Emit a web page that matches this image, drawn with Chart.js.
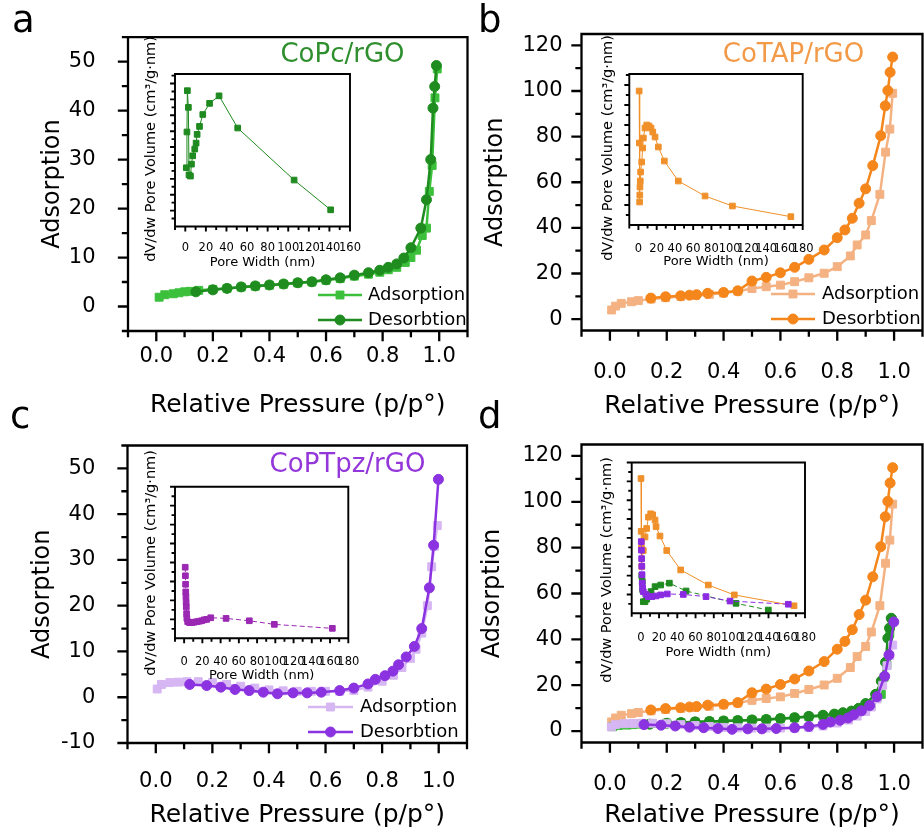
<!DOCTYPE html>
<html>
<head>
<meta charset="utf-8">
<script src="https://cdn.jsdelivr.net/npm/chart.js@4.4.1/dist/chart.umd.min.js"></script>
<style>
  body { margin: 0; background: #fff; }
  #fig { position: relative; width: 924px; height: 838px; overflow: hidden; background: #fff; }
  #fig canvas { position: absolute; }
</style>
</head>
<body>
<div id="fig"></div>
<script>
const FONT = "'DejaVu Sans', 'Liberation Sans', sans-serif";

// ---- isotherms: relative pressure (p/p°) vs adsorbed amount
// CoPc/rGO
const pressA_ads = [0.01,0.03,0.06,0.08,0.10,0.12,0.15,0.20,0.25,0.30,0.35,0.40,0.45,0.50,0.55,0.60,0.65,0.70,0.75,0.79,0.82,0.85,0.88,0.90,0.92,0.94,0.955,0.965,0.975,0.985,0.993];
const volA_ads   = [1.9,2.4,2.6,2.8,3.0,3.1,3.3,3.5,3.7,3.95,4.15,4.35,4.55,4.8,5.0,5.35,5.7,6.2,6.6,7.0,7.5,8.0,9.0,10.0,11.5,14.5,16.0,23.5,28.8,42.6,48.5];
const pressA_des = [0.14,0.20,0.25,0.30,0.35,0.40,0.45,0.50,0.55,0.60,0.65,0.70,0.75,0.79,0.82,0.85,0.875,0.90,0.935,0.955,0.97,0.978,0.984,0.99];
const volA_des   = [3.0,3.4,3.7,4.0,4.2,4.4,4.6,4.85,5.05,5.45,5.85,6.4,6.9,7.4,8.0,8.7,9.9,12.0,16.0,21.8,30.0,40.5,44.9,49.2];

// CoTAP/rGO
const pressB_ads = [0.006,0.02,0.04,0.076,0.10,0.145,0.196,0.25,0.30,0.35,0.40,0.45,0.50,0.55,0.60,0.65,0.70,0.754,0.80,0.846,0.87,0.90,0.92,0.95,0.97,0.985,0.995];
const volB_ads   = [4.0,5.7,6.9,7.6,8.1,8.8,9.4,9.9,10.3,10.8,11.4,12.2,13.4,14.2,14.9,16.4,18.1,20.1,23.0,27.7,32.5,36.9,43.2,54.7,73.2,83.3,99.0];
const pressB_des = [0.144,0.196,0.249,0.28,0.305,0.344,0.40,0.45,0.50,0.55,0.60,0.65,0.70,0.754,0.80,0.827,0.853,0.877,0.90,0.925,0.953,0.969,0.978,0.986,0.995];
const volB_des   = [9.2,9.8,10.2,10.5,10.7,11.3,11.7,12.4,16.7,18.3,20.3,22.7,26.2,30.3,35.7,39.1,44.2,50.8,57.1,67.3,80.4,93.5,100.2,108.2,114.9];

// CoPTpz/rGO
const pressC_ads = [0.005,0.02,0.05,0.08,0.11,0.15,0.20,0.25,0.30,0.35,0.40,0.45,0.50,0.55,0.60,0.65,0.70,0.75,0.80,0.84,0.87,0.90,0.92,0.94,0.96,0.975,0.985,0.995];
const volC_ads   = [1.8,2.8,3.2,3.3,3.4,3.4,3.2,2.8,2.4,2.0,1.6,1.4,1.3,1.3,1.3,1.3,1.5,2.2,3.5,4.8,6.5,8.5,10.5,14.0,20.0,28.5,33.0,37.5];
const pressC_des = [0.12,0.18,0.23,0.28,0.33,0.38,0.43,0.485,0.535,0.585,0.65,0.70,0.75,0.776,0.81,0.838,0.858,0.885,0.914,0.94,0.967,0.982,0.999];
const volC_des   = [2.8,2.55,2.2,1.7,1.45,1.1,0.75,0.95,0.95,1.1,1.45,2.0,2.9,3.9,4.7,5.7,7.1,8.8,11.1,15.0,23.9,33.2,47.6];

// ---- pore size distributions (pore width nm vs dV/dw, arbitrary units)
const widthA = [1.0,1.6,2.0,3.0,3.6,5.0,6.0,7.2,9.2,10.5,11.5,13.8,17,23.6,32.8,50.9,105.7,141.2];
const psdA   = [7.4,11.9,17.1,15.0,6.5,6.35,7.85,8.9,9.75,10.5,11.6,12.6,14.1,15.5,16.45,12.4,5.85,2.1];
const widthB = [0.8,1.0,1.3,1.5,1.7,2.0,2.4,3.6,4.7,5.4,7.2,9.1,11.6,13.8,15.7,18.2,21.8,28.4,43.7,73,103,167];
const psdB   = [13.4,8.2,2.3,3.0,3.8,4.4,5.3,6.3,7.7,8.7,9.7,10.0,9.9,9.7,9.3,8.8,7.8,6.4,4.4,2.9,1.9,0.83];
const widthC = [1.2,1.4,1.6,1.8,2.0,2.2,2.4,2.7,3.0,3.9,6,8.3,11,13.8,16.5,19.3,22,24.8,29.2,46,71.5,98.9,162.5];
const psdC   = [7.5,6.6,5.7,4.9,4.4,3.8,3.3,2.6,2.1,1.75,1.65,1.65,1.7,1.75,1.8,1.85,1.95,2.0,2.17,2.1,1.85,1.47,1.05];
const widthD_tap = [0.2,0.4,0.6,1.0,2.7,4.6,6.4,8.3,10.8,13,15.6,16.7,21,28.4,43.7,74,102.5,168];
const psdD_tap   = [14.3,8.7,6.9,4.96,6.66,8.1,9.0,10.2,10.56,10.45,9.9,9.2,8.2,6.66,4.6,3.0,1.95,0.8];
const widthD_pc  = [1.0,1.6,2.0,2.7,4.6,6.5,8.3,11.2,15.6,21.8,31.3,49.6,104.4,139.8];
const psdD_pc    = [4.0,3.4,2.5,1.23,1.23,1.5,1.77,2.3,2.83,3.0,3.2,2.37,1.06,0.35];
const widthD_ptz = [0.5,0.7,0.9,1.1,1.3,1.6,2.0,2.7,5.7,8.3,12,16.7,21.8,29,46.6,71.5,97.8,161.7];
const psdD_ptz   = [7.6,6.7,5.8,5.0,4.1,3.2,2.66,2.3,2.0,1.77,1.77,1.84,1.95,2.05,2.0,1.77,1.3,0.96];

// ---- axis ticks
const xMajorMain = [0, 0.2, 0.4, 0.6, 0.8, 1.0];
const xMinorMain = [-0.1, 0.1, 0.3, 0.5, 0.7, 0.9, 1.1];
const yMajor50 = [0, 10, 20, 30, 40, 50];
const yMinor50 = [-5, 5, 15, 25, 35, 45, 55];
const yMajorC = [-10, 0, 10, 20, 30, 40, 50];
const yMajor120 = [0, 20, 40, 60, 80, 100, 120];
const yMinor120 = [10, 30, 50, 70, 90, 110];
const wMajor160 = [0, 20, 40, 60, 80, 100, 120, 140, 160];
const wMinor160 = [-10, 10, 30, 50, 70, 90, 110, 130, 150];
const wMajor180 = [0, 20, 40, 60, 80, 100, 120, 140, 160, 180];
const wMinor180 = [-10, 10, 30, 50, 70, 90, 110, 130, 150, 170];

const GREEN = '#1f8c1f', GREEN_L = '#3cc03c';
const ORANGE = '#f4861c', ORANGE_L = '#f4b283';
const PURPLE = '#8b33e0', PURPLE_L = '#d6b6f3';

function range(a, b) { const r = []; for (let i = a; i <= b; i++) r.push(i); return r; }

function addCanvas(r) {
  const cv = document.createElement('canvas');
  cv.width = r.w; cv.height = r.h;
  cv.style.left = r.x + 'px'; cv.style.top = r.y + 'px';
  cv.style.width = r.w + 'px'; cv.style.height = r.h + 'px';
  document.getElementById('fig').appendChild(cv);
  return cv;
}

function series(label, xs, ys, color, style, size, extra) {
  return Object.assign({
    label: label,
    data: xs.map((x, i) => ({ x: x, y: ys[i] })),
    showLine: true,
    borderColor: color, backgroundColor: color,
    pointBackgroundColor: color, pointBorderColor: color,
    pointStyle: style, pointRadius: size, pointBorderWidth: 1, pointHoverRadius: size,
    borderWidth: 2.5
  }, extra || {});
}

function marker(ctx, style, r, x, y) {
  ctx.beginPath();
  if (style === 'rect') { const s = r * Math.SQRT1_2; ctx.rect(x - s, y - s, 2 * s, 2 * s); }
  else ctx.arc(x, y, r, 0, Math.PI * 2);
  ctx.fill(); ctx.stroke();
}

// box around the plot + outward major/minor tick marks, one path
function frameTicks(cfg) {
  return {
    id: 'frameTicks',
    afterDraw(chart) {
      const ctx = chart.ctx, sx = chart.scales.x, sy = chart.scales.y;
      const L = sx.left, R = sx.right, T = sy.top, B = sy.bottom;
      ctx.save();
      ctx.strokeStyle = '#000';
      ctx.lineWidth = cfg.lineWidth;
      ctx.lineCap = 'square';
      ctx.beginPath();
      ctx.moveTo(L, T); ctx.lineTo(R, T);
      ctx.moveTo(R, T); ctx.lineTo(R, B);
      ctx.moveTo(L, B); ctx.lineTo(R, B);
      ctx.moveTo(L, T); ctx.lineTo(L, B);
      const xm = (vals, len) => vals.forEach(v => {
        const p = sx.getPixelForValue(v); ctx.moveTo(p, B); ctx.lineTo(p, B + len);
      });
      const ym = (vals, len) => vals.forEach(v => {
        const p = sy.getPixelForValue(v); ctx.moveTo(L, p); ctx.lineTo(L - len, p);
      });
      xm(cfg.xMajor, cfg.len[0]); xm(cfg.xMinor, cfg.len[1]);
      ym(cfg.yMajor, cfg.len[0]); ym(cfg.yMinor, cfg.len[1]);
      ctx.stroke();
      ctx.restore();
    }
  };
}

// free text (page coordinates) and the in-plot legend
function notes(r, cfg) {
  return {
    id: 'notes',
    afterDraw(chart) {
      const ctx = chart.ctx;
      ctx.save();
      ctx.translate(-r.x, -r.y);
      (cfg.texts || []).forEach(t => {
        ctx.save();
        ctx.font = t.font;
        ctx.fillStyle = t.color || '#000';
        ctx.textAlign = t.align || 'left';
        ctx.textBaseline = t.base || 'alphabetic';
        ctx.translate(t.x, t.y);
        if (t.rot) ctx.rotate(-Math.PI / 2);
        ctx.fillText(t.text, 0, 0);
        ctx.restore();
      });
      (cfg.legend || []).forEach(l => {
        const ds = chart.data.datasets[l.ds];
        ctx.strokeStyle = ds.borderColor;
        ctx.lineWidth = ds.borderWidth;
        ctx.beginPath(); ctx.moveTo(l.x1, l.y); ctx.lineTo(l.x2, l.y); ctx.stroke();
        ctx.fillStyle = ds.pointBackgroundColor;
        ctx.strokeStyle = ds.pointBorderColor;
        ctx.lineWidth = 1;
        marker(ctx, ds.pointStyle, ds.pointRadius, (l.x1 + l.x2) / 2, l.y);
        ctx.fillStyle = '#000';
        ctx.font = '18px ' + FONT;
        ctx.textAlign = 'left';
        ctx.textBaseline = 'middle';
        ctx.fillText(ds.label, l.tx, l.y);
      });
      ctx.restore();
    }
  };
}

function mainPanel(r, area, o) {
  const cv = addCanvas(r);
  return new Chart(cv, {
    type: 'scatter',
    data: { datasets: o.datasets },
    plugins: [
      frameTicks({ xMajor: xMajorMain, xMinor: xMinorMain, yMajor: o.yMajor, yMinor: o.yMinor, len: [9, 5], lineWidth: 2.3 }),
      notes(r, { texts: o.texts, legend: o.legend })
    ],
    options: {
      responsive: false, animation: false, devicePixelRatio: 1,
      layout: { padding: { left: 0, top: area.t - r.y, right: r.x + r.w - area.r, bottom: 0 } },
      plugins: { legend: { display: false }, tooltip: { enabled: false } },
      scales: {
        x: {
          type: 'linear', min: -0.1, max: 1.1,
          afterBuildTicks: s => { s.ticks = xMajorMain.map(v => ({ value: v })); },
          afterFit: s => { s.height = r.y + r.h - area.b; },
          grid: { display: false }, border: { display: false },
          ticks: { autoSkip: false, maxRotation: 0, minRotation: 0, padding: o.xPad, color: '#000',
                   font: { family: FONT, size: 21 }, callback: v => Number(v).toFixed(1) },
          title: { display: true, text: 'Relative Pressure (p/p°)', color: '#000', font: { family: FONT, size: 25 },
                   padding: { top: 0, bottom: r.y + r.h - o.xTitleY - 15 } }
        },
        y: {
          type: 'linear', min: o.yMin, max: o.yMax,
          afterBuildTicks: s => { s.ticks = o.yMajor.map(v => ({ value: v })); },
          afterFit: s => { s.width = area.l - r.x; },
          grid: { display: false }, border: { display: false },
          ticks: { padding: o.yPad, color: '#000', font: { family: FONT, size: 21 }, callback: v => String(v) },
          title: { display: true, text: 'Adsorption', color: '#000', font: { family: FONT, size: 24 },
                   padding: { top: o.yTitleX - r.x - 14.4, bottom: 0 } }
        }
      }
    }
  });
}

function insetPanel(r, area, o) {
  const cv = addCanvas(r);
  return new Chart(cv, {
    type: 'scatter',
    data: { datasets: o.datasets },
    plugins: [
      frameTicks({ xMajor: o.wMajor, xMinor: o.wMinor, yMajor: o.yMajor, yMinor: o.yMinor, len: [4, 2.5], lineWidth: 1.9 }),
      notes(r, { texts: [{ text: 'dV/dw Pore Volume (cm³/g·nm)', x: o.yTitle[0], y: o.yTitle[1],
                           font: '14.5px ' + FONT, align: 'center', base: 'middle', rot: true }] })
    ],
    options: {
      responsive: false, animation: false, devicePixelRatio: 1,
      layout: { padding: { left: 0, top: area.t - r.y, right: r.x + r.w - area.r, bottom: 0 } },
      plugins: { legend: { display: false }, tooltip: { enabled: false } },
      scales: {
        x: {
          type: 'linear', min: -10, max: o.wMax,
          afterBuildTicks: s => { s.ticks = o.wMajor.map(v => ({ value: v })); },
          afterFit: s => { s.height = r.y + r.h - area.b; },
          grid: { display: false }, border: { display: false },
          ticks: { autoSkip: false, maxRotation: 0, minRotation: 0, padding: o.xPad, color: '#000',
                   font: { family: FONT, size: 11.5 }, callback: v => String(v) },
          title: { display: true, text: 'Pore Width (nm)', color: '#000', font: { family: FONT, size: 13 },
                   padding: { top: 0, bottom: r.y + r.h - o.xTitleY - 7.8 } }
        },
        y: {
          type: 'linear', min: 0, max: o.yMax,
          afterFit: s => { s.width = area.l - r.x; },
          grid: { display: false }, border: { display: false },
          ticks: { display: false }
        }
      }
    }
  });
}

function psd(xs, ys, color, extra) {
  return series('', xs, ys, color, 'rect', 4, Object.assign({ borderWidth: 1 }, extra || {}));
}

// ---- a: CoPc/rGO
mainPanel({ x: 0, y: 0, w: 490, h: 440 }, { l: 128, t: 33, r: 467.5, b: 331 }, {
  datasets: [
    series('Desorbtion', pressA_des, volA_des, GREEN, 'circle', 5),
    series('Adsorption', pressA_ads, volA_ads, GREEN_L, 'rect', 5.6)
  ],
  yMin: -5, yMax: 55, yMajor: yMajor50, yMinor: yMinor50,
  xPad: 5, yPad: 24.5, xTitleY: 405, yTitleX: 52.5,
  texts: [
    { text: 'a', x: 12, y: 32, font: '37px ' + FONT },
    { text: 'CoPc/rGO', x: 342.5, y: 62, font: '26px ' + FONT, color: '#2f8f2f', align: 'center' }
  ],
  legend: [{ ds: 1, x1: 318, x2: 362, y: 295, tx: 368 }, { ds: 0, x1: 318, x2: 362, y: 320, tx: 368 }]
});

// ---- b: CoTAP/rGO
mainPanel({ x: 470, y: 0, w: 472, h: 440 }, { l: 581.5, t: 34, r: 922.5, b: 330.5 }, {
  datasets: [
    series('Desorbtion', pressB_des, volB_des, ORANGE, 'circle', 5),
    series('Adsorption', pressB_ads, volB_ads, ORANGE_L, 'rect', 5.6)
  ],
  yMin: -5, yMax: 125, yMajor: yMajor120, yMinor: yMinor120,
  xPad: 21, yPad: 11, xTitleY: 406.5, yTitleX: 495.3,
  texts: [
    { text: 'b', x: 478, y: 32, font: '37px ' + FONT },
    { text: 'CoTAP/rGO', x: 793.5, y: 62, font: '26px ' + FONT, color: '#f29a48', align: 'center' }
  ],
  legend: [{ ds: 1, x1: 771, x2: 815, y: 294, tx: 822 }, { ds: 0, x1: 771, x2: 815, y: 319, tx: 822 }]
});

// ---- c: CoPTpz/rGO
mainPanel({ x: 0, y: 400, w: 490, h: 438 }, { l: 127.5, t: 445.5, r: 467, b: 743 }, {
  datasets: [
    series('Desorbtion', pressC_des, volC_des, PURPLE, 'circle', 5),
    series('Adsorption', pressC_ads, volC_ads, PURPLE_L, 'rect', 5.6)
  ],
  yMin: -10, yMax: 55, yMajor: yMajorC, yMinor: yMinor50,
  xPad: 18.4, yPad: 24.2, xTitleY: 815.7, yTitleX: 42.3,
  texts: [
    { text: 'c', x: 10, y: 428, font: '37px ' + FONT },
    { text: 'CoPTpz/rGO', x: 347.5, y: 472, font: '26px ' + FONT, color: '#9437da', align: 'center' }
  ],
  legend: [{ ds: 1, x1: 308, x2: 353, y: 707, tx: 360 }, { ds: 0, x1: 308, x2: 353, y: 732, tx: 360 }]
});

// ---- d: all three composites
mainPanel({ x: 470, y: 400, w: 472, h: 438 }, { l: 581.5, t: 444.5, r: 922.5, b: 742.5 }, {
  datasets: [
    series('CoPTpz/rGO Desorbtion', pressC_des, volC_des, PURPLE, 'circle', 5),
    series('CoPTpz/rGO Adsorption', pressC_ads, volC_ads, PURPLE_L, 'rect', 5.6),
    series('CoPc/rGO Desorbtion', pressA_des, volA_des, GREEN, 'circle', 5),
    series('CoPc/rGO Adsorption', pressA_ads, volA_ads, GREEN_L, 'rect', 5.6),
    series('CoTAP/rGO Desorbtion', pressB_des, volB_des, ORANGE, 'circle', 5),
    series('CoTAP/rGO Adsorption', pressB_ads, volB_ads, ORANGE_L, 'rect', 5.6)
  ],
  yMin: -5, yMax: 125, yMajor: yMajor120, yMinor: yMinor120,
  xPad: 21.2, yPad: 11, xTitleY: 815.7, yTitleX: 492.7,
  texts: [{ text: 'd', x: 478, y: 428, font: '37px ' + FONT }],
  legend: []
});

// ---- insets
insetPanel({ x: 125, y: 20, w: 255, h: 260 }, { l: 175, t: 74, r: 350, b: 226.5 }, {
  datasets: [psd(widthA, psdA, '#1f8a1f')],
  wMax: 160, wMajor: wMajor160, wMinor: wMinor160,
  yMax: 19.2, yMajor: range(1, 9).map(i => 2 * i), yMinor: range(0, 9).map(i => 2 * i + 1),
  xPad: 6.6, xTitleY: 262.3, yTitle: [151.7, 149]
});

insetPanel({ x: 580, y: 20, w: 253, h: 260 }, { l: 629.3, t: 74, r: 802.7, b: 225 }, {
  datasets: [psd(widthB, psdB, '#f0902a')],
  wMax: 180, wMajor: wMajor180, wMinor: wMinor180,
  yMax: 15.1, yMajor: range(1, 7).map(i => 2 * i), yMinor: range(0, 7).map(i => 2 * i + 1),
  xPad: 8.8, xTitleY: 261.7, yTitle: [608.7, 148]
});

insetPanel({ x: 125, y: 435, w: 253, h: 260 }, { l: 175, t: 486.7, r: 348.3, b: 638.3 }, {
  datasets: [psd(widthC, psdC, '#9a28b2', { borderDash: [5, 3] })],
  wMax: 180, wMajor: wMajor180, wMinor: wMinor180,
  yMax: 16, yMajor: range(1, 8).map(i => 2 * i), yMinor: range(0, 7).map(i => 2 * i + 1),
  xPad: 8.8, xTitleY: 675.7, yTitle: [151.7, 563]
});

insetPanel({ x: 580, y: 425, w: 255, h: 265 }, { l: 631.7, t: 462.5, r: 805, b: 613.3 }, {
  datasets: [
    psd(widthD_ptz, psdD_ptz, '#8a2be2', { borderDash: [5, 3] }),
    psd(widthD_pc, psdD_pc, '#1f8a1f', { borderDash: [5, 3] }),
    psd(widthD_tap, psdD_tap, '#f0902a')
  ],
  wMax: 180, wMajor: wMajor180, wMinor: wMinor180,
  yMax: 16, yMajor: range(1, 8).map(i => 2 * i), yMinor: range(0, 7).map(i => 2 * i + 1),
  xPad: 9.5, xTitleY: 652.3, yTitle: [607, 570]
});
</script>
</body>
</html>
